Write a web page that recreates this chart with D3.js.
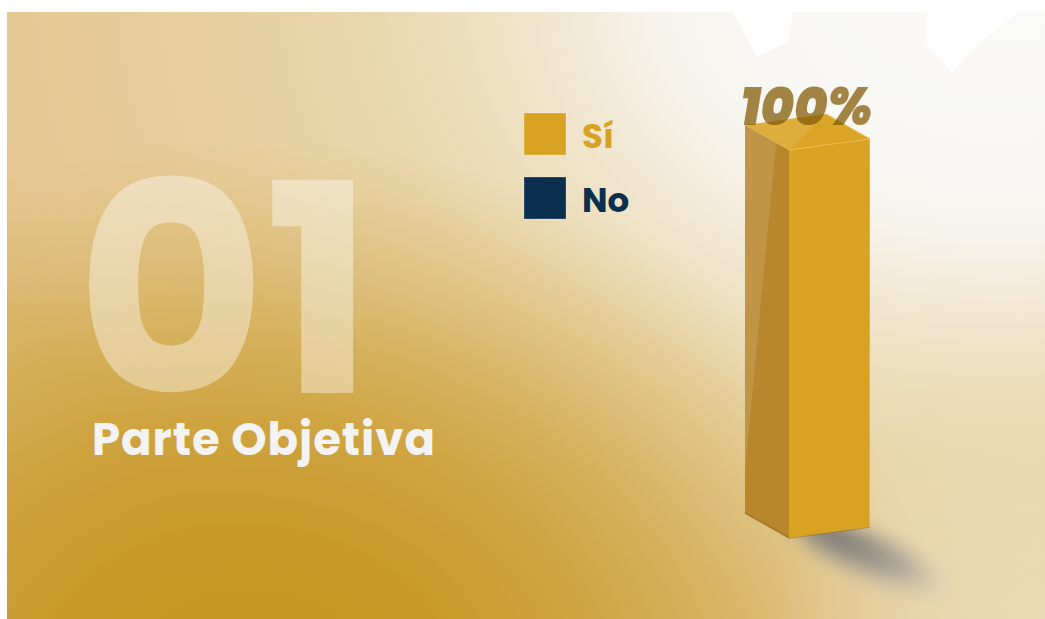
<!DOCTYPE html>
<html>
<head>
<meta charset="utf-8">
<script src="https://cdn.jsdelivr.net/npm/d3@7"></script>
<style>
  html, body { margin: 0; padding: 0; background: #ffffff; }
  svg { display: block; }
</style>
</head>
<body>
<svg id="chart" width="1045" height="619"></svg>
<script>
// ---- data ----
const categories = ["Parte Objetiva"];
const seriesNames = ["Sí", "No"];
const seriesValues = [100, 0];
const sectionNumber = "01";
const sectionTitle = "Parte Objetiva";
const valueDomain = [0, 100];

// ---- styles ----
const seriesColors = ["#d8a223", "#0b2f4f"];
const sideColors = ["#b8862b", "#08223a"];
const topColors = ["#daa427", "#123a5e"];

const W = 1045, H = 619;
const svg = d3.select("#chart");
const defs = svg.append("defs");

// background gradients
const bgGrad = defs.append("radialGradient").attr("id", "bgLight")
  .attr("gradientUnits", "userSpaceOnUse")
  .attr("cx", 0).attr("cy", 0).attr("r", 1)
  .attr("gradientTransform", "translate(1000,-20) scale(1080,800)");
[[0, "#fafaf8"], [0.25, "#f8f7f3"], [0.32, "#f7f4ec"], [0.4, "#f2e9d5"],
 [0.46, "#efe3c6"], [0.53, "#ecdcb8"], [0.6, "#e9d6ab"], [0.7, "#e7d1a2"],
 [0.8, "#e6cc9a"], [0.92, "#e5c995"], [1, "#e2c48a"]].forEach(([o, c]) =>
  bgGrad.append("stop").attr("offset", o).attr("stop-color", c));

const darkGrad = defs.append("radialGradient").attr("id", "bgDark")
  .attr("gradientUnits", "userSpaceOnUse")
  .attr("cx", 0).attr("cy", 0).attr("r", 1)
  .attr("gradientTransform", "translate(250,700) scale(700,560)");
[[0, 1], [0.3, 0.9], [0.5, 0.72], [0.65, 0.5], [0.8, 0.25], [0.92, 0.08], [1, 0]]
  .forEach(([o, a]) => darkGrad.append("stop").attr("offset", o)
    .attr("stop-color", "#c6951f").attr("stop-opacity", a));

const cornerGrad = defs.append("radialGradient").attr("id", "bgCorner")
  .attr("gradientUnits", "userSpaceOnUse")
  .attr("cx", 0).attr("cy", 0).attr("r", 1)
  .attr("gradientTransform", "translate(1060,640) scale(300,260)");
[[0, 0.75], [0.5, 0.45], [1, 0]].forEach(([o, a]) => cornerGrad.append("stop")
  .attr("offset", o).attr("stop-color", "#ece0c0").attr("stop-opacity", a));

const shadowFilter = defs.append("filter").attr("id", "blur")
  .attr("x", "-50%").attr("y", "-100%").attr("width", "200%").attr("height", "300%");
shadowFilter.append("feGaussianBlur").attr("stdDeviation", 9);

const shadowGrad = defs.append("radialGradient").attr("id", "shadowGrad")
  .attr("cx", "25%").attr("cy", "40%").attr("r", "75%");
shadowGrad.append("stop").attr("offset", 0).attr("stop-color", "#666666").attr("stop-opacity", 0.9);
shadowGrad.append("stop").attr("offset", 0.6).attr("stop-color", "#909090").attr("stop-opacity", 0.65);
shadowGrad.append("stop").attr("offset", 1).attr("stop-color", "#b8b8b8").attr("stop-opacity", 0);

// background
["url(#bgLight)", "url(#bgDark)", "url(#bgCorner)"].forEach(f =>
  svg.append("rect").attr("x", 7).attr("y", 12).attr("width", W - 7).attr("height", H - 12)
    .attr("fill", f));
// decorative white cut-outs at the top
const cutouts = [
  [[732, 11], [757, 57], [788, 42], [793, 11]],
  [[927, 11], [927, 45], [952, 72], [977, 45], [1020, 11]]
];
svg.selectAll("polygon.cut").data(cutouts).join("polygon").attr("class", "cut")
  .attr("points", d => d.map(p => p.join(",")).join(" ")).attr("fill", "#ffffff");

// big section number
svg.append("text")
  .attr("x", 76).attr("y", 393)
  .attr("font-family", "Poppins, Inter, sans-serif")
  .attr("font-weight", 700)
  .attr("font-size", 292)
  .attr("fill", "#ffffff").attr("fill-opacity", 0.4)
  .attr("letter-spacing", -2)
  .text(sectionNumber);

// section title
const title = svg.append("text")
  .attr("x", 92).attr("y", 455)
  .attr("font-family", "Poppins, Inter, sans-serif")
  .attr("font-weight", 700)
  .attr("font-size", 45)
  .attr("fill", "#f3f3f3")
  .text(sectionTitle);
(function fit() {
  const target = 343;
  const len = title.node().getComputedTextLength();
  const n = sectionTitle.length;
  title.attr("letter-spacing", (target - len) / (n - 1));
})();

// scales
const y = d3.scaleLinear().domain(valueDomain).range([538, 150]);
const x = d3.scaleBand().domain(categories).range([789, 870]).padding(0);
const color = d3.scaleOrdinal().domain(seriesNames).range(seriesColors);
const sideColor = d3.scaleOrdinal().domain(seriesNames).range(sideColors);
const topColor = d3.scaleOrdinal().domain(seriesNames).range(topColors);

// 3D geometry
const depthX = -44, depthY = -25, skew = -11;

// stacked data
const table = categories.map(c => {
  const row = { category: c };
  seriesNames.forEach((s, i) => row[s] = seriesValues[i]);
  return row;
});
const stacked = d3.stack().keys(seriesNames)(table);
const segments = [];
stacked.forEach(layer => layer.forEach(d => {
  if (d[1] - d[0] > 0) segments.push({ key: layer.key, category: d.data.category, y0: d[0], y1: d[1] });
}));
const topSeg = segments[segments.length - 1];

// shadow
const x0 = x(categories[0]), bw = x.bandwidth();
const scx = x0 + bw * 0.5 + 44, scy = y(0) + 21;
svg.append("ellipse")
  .attr("cx", scx).attr("cy", scy)
  .attr("rx", 85).attr("ry", 23)
  .attr("transform", `rotate(25 ${scx} ${scy})`)
  .attr("fill", "url(#shadowGrad)")
  .attr("filter", "url(#blur)");

const pts = a => a.map(p => p.join(",")).join(" ");
const bars = svg.append("g");
segments.forEach(s => {
  const xs = x(s.category), w = x.bandwidth();
  const yb = y(s.y0), yt = y(s.y1);
  bars.append("polygon")
    .attr("points", pts([[xs + depthX, yb + depthY], [xs, yb], [xs, yt], [xs + depthX, yt + depthY]]))
    .attr("fill", sideColor(s.key));
  bars.append("polygon")
    .attr("points", pts([[xs + depthX, yt + depthY], [xs + depthX + 31, yt + depthY + 18],
      [xs + depthX, yt + depthY + (yb - yt) * 0.89]]))
    .attr("fill", "#ffffff").attr("fill-opacity", 0.13);
  bars.append("polyline")
    .attr("points", pts([[xs + depthX, yb + depthY], [xs, yb], [xs + w, yb + skew]]))
    .attr("fill", "none").attr("stroke", "#7a5a1a").attr("stroke-opacity", 0.5).attr("stroke-width", 1.5);
  bars.append("polygon")
    .attr("points", pts([[xs, yb], [xs + w, yb + skew], [xs + w, yt + skew], [xs, yt]]))
    .attr("fill", color(s.key));
  bars.append("line")
    .attr("x1", xs + w - 0.5).attr("y1", yb + skew).attr("x2", xs + w - 0.5).attr("y2", yt + skew)
    .attr("stroke", "#e6b43a").attr("stroke-width", 1);
  if (s === topSeg) {
    const A = [xs + depthX, yt + depthY], B = [xs + w + depthX, yt + skew + depthY],
          C = [xs + w, yt + skew], D = [xs, yt];
    bars.append("polygon").attr("points", pts([A, B, C, D])).attr("fill", topColor(s.key));
    bars.append("polygon").attr("points", pts([A, B, D])).attr("fill", "#ffffff").attr("fill-opacity", 0.1);
    bars.append("polyline").attr("points", pts([D, C, B]))
      .attr("fill", "none").attr("stroke", "#ecbd45").attr("stroke-width", 1);
  }
});

// value label
const totalTop = y(topSeg.y1);
svg.append("text")
  .attr("x", x0 + depthX / 2 + bw / 2 - 1).attr("y", totalTop - 25)
  .attr("text-anchor", "middle")
  .attr("font-family", "Poppins, Inter, sans-serif")
  .attr("font-weight", 900)
  .attr("font-style", "italic")
  .attr("font-size", 54)
  .attr("textLength", 132)
  .attr("lengthAdjust", "spacingAndGlyphs")
  .attr("fill", "rgb(128,88,0)").attr("fill-opacity", 0.72)
  .text(d3.format(".0f")(topSeg.y1 - topSeg.y0) + "%");

// legend
const legend = svg.append("g").attr("transform", "translate(524,113)");
const items = legend.selectAll("g").data(seriesNames).join("g")
  .attr("transform", (d, i) => `translate(0, ${i * 64})`);
items.append("rect").attr("width", 42).attr("height", 42)
  .attr("fill", d => color(d))
  .attr("stroke", "#ffffff").attr("stroke-opacity", 0.25).attr("stroke-width", 1);
items.append("text")
  .attr("x", 58).attr("y", 35)
  .attr("font-family", "Poppins, Inter, sans-serif")
  .attr("font-weight", 700)
  .attr("font-size", 34)
  .attr("fill", d => color(d))
  .text(d => d);
</script>
</body>
</html>
